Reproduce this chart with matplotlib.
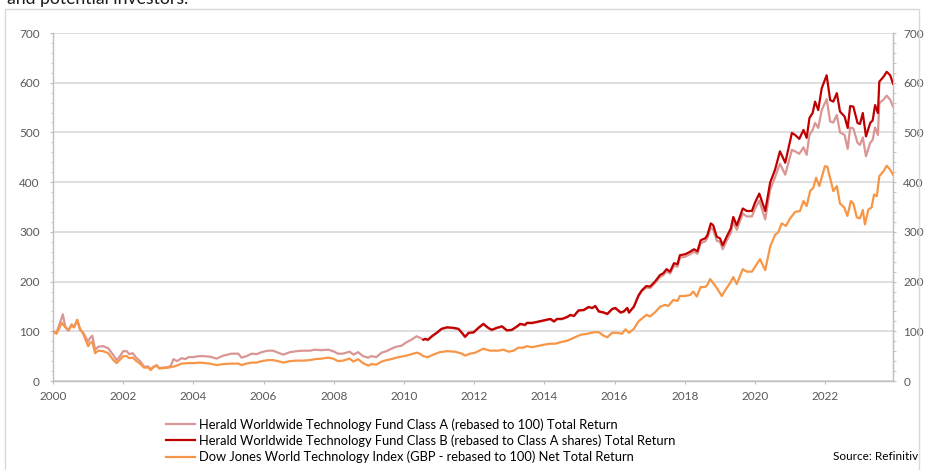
import numpy as np
import matplotlib
matplotlib.use("Agg")
import matplotlib.pyplot as plt
from matplotlib.patches import Rectangle
from matplotlib.ticker import MultipleLocator

plt.rcParams['font.family'] = ['Lato', 'DejaVu Sans']

# Class A fund (rebased to 100), decimal years
years_a = [
    2000.00, 2000.10, 2000.28, 2000.35, 2000.44, 2000.53, 2000.60, 2000.69, 2000.77, 2000.86,
    2001.00, 2001.05, 2001.12, 2001.20, 2001.29, 2001.43, 2001.57, 2001.72, 2001.81, 2001.91,
    2002.00, 2002.10, 2002.17, 2002.27, 2002.38, 2002.48, 2002.59, 2002.72, 2002.78, 2002.85,
    2002.95, 2003.03, 2003.14, 2003.29, 2003.36, 2003.43, 2003.53, 2003.67, 2003.77, 2003.86,
    2004.00, 2004.15, 2004.29, 2004.47, 2004.66, 2004.85, 2005.09, 2005.28, 2005.37, 2005.51,
    2005.66, 2005.80, 2005.94, 2006.13, 2006.27, 2006.41, 2006.56, 2006.75, 2006.94, 2007.13,
    2007.32, 2007.46, 2007.65, 2007.84, 2007.98, 2008.12, 2008.26, 2008.45, 2008.56, 2008.69,
    2008.83, 2008.98, 2009.07, 2009.21, 2009.36, 2009.50, 2009.64, 2009.78, 2009.93, 2010.07,
    2010.21, 2010.36, 2010.45, 2010.55, 2010.60, 2010.68, 2010.79, 2010.93, 2011.07, 2011.22,
    2011.41, 2011.55, 2011.65, 2011.74, 2011.84, 2011.98, 2012.12, 2012.26, 2012.40, 2012.50,
    2012.64, 2012.79, 2012.93, 2013.07, 2013.22, 2013.31, 2013.45, 2013.50, 2013.65, 2013.79,
    2013.98, 2014.17, 2014.27, 2014.36, 2014.50, 2014.65, 2014.74, 2014.84, 2014.97, 2015.12,
    2015.26, 2015.36, 2015.45, 2015.55, 2015.69, 2015.79, 2015.93, 2016.02, 2016.17, 2016.26,
    2016.36, 2016.41, 2016.55, 2016.68, 2016.77, 2016.90, 2017.01, 2017.15, 2017.29, 2017.39,
    2017.48, 2017.58, 2017.69, 2017.79, 2017.86, 2018.01, 2018.15, 2018.26, 2018.36, 2018.45,
    2018.58, 2018.64, 2018.74, 2018.81, 2018.91, 2019.00, 2019.08, 2019.19, 2019.31, 2019.38,
    2019.48, 2019.65, 2019.76, 2019.91, 2020.00, 2020.12, 2020.29, 2020.43, 2020.57, 2020.71,
    2020.86, 2021.05, 2021.14, 2021.26, 2021.38, 2021.47, 2021.55, 2021.64, 2021.71, 2021.80,
    2021.90, 2022.04, 2022.14, 2022.23, 2022.33, 2022.42, 2022.55, 2022.64, 2022.71, 2022.80,
    2022.92, 2022.99, 2023.07, 2023.16, 2023.28, 2023.35, 2023.42, 2023.50, 2023.54, 2023.66,
    2023.75, 2023.85, 2023.93,
]
class_a = [
    100, 97, 134, 109, 101, 114, 108, 123, 103, 97,
    79, 86, 91, 63, 69, 70, 66, 52, 42, 50,
    60, 60, 54, 56, 46, 40, 29, 29, 23, 28,
    32, 26, 27, 28, 31, 44, 40, 46, 44, 48,
    48, 50, 50, 49, 45, 51, 55, 55, 47, 50,
    55, 54, 58, 61, 61, 57, 53, 58, 60, 61,
    61, 63, 62, 63, 60, 55, 55, 59, 53, 58,
    50, 47, 50, 48, 57, 60, 65, 69, 71, 78,
    83, 90, 87, 83, 84, 82, 89, 96, 104, 107,
    106, 104, 96, 88, 96, 97, 106, 114, 106, 102,
    106, 109, 101, 102, 109, 114, 112, 116, 116, 118,
    121, 124, 119, 124, 124, 128, 132, 130, 141, 142,
    148, 146, 150, 139, 137, 134, 144, 146, 137, 139,
    146, 137, 149, 171, 180, 188, 187, 197, 209, 213,
    221, 216, 232, 230, 248, 250, 255, 260, 256, 277,
    281, 287, 308, 304, 282, 280, 265, 282, 298, 321,
    304, 337, 331, 331, 347, 363, 325, 385, 410, 437,
    415, 465, 462, 457, 470, 455, 495, 505, 519, 509,
    545, 567, 522, 520, 535, 500, 495, 467, 510, 508,
    479, 475, 490, 452, 479, 485, 510, 495, 559, 566,
    574, 566, 552,
]

# Class B fund (rebased to Class A shares)
years_b = [
    2010.55, 2010.60, 2010.68, 2010.79, 2010.93, 2011.07, 2011.22, 2011.41, 2011.55, 2011.65,
    2011.74, 2011.84, 2011.98, 2012.12, 2012.26, 2012.40, 2012.50, 2012.64, 2012.79, 2012.93,
    2013.07, 2013.22, 2013.31, 2013.45, 2013.50, 2013.65, 2013.79, 2013.98, 2014.17, 2014.27,
    2014.36, 2014.50, 2014.65, 2014.74, 2014.84, 2014.97, 2015.12, 2015.26, 2015.36, 2015.45,
    2015.55, 2015.69, 2015.79, 2015.93, 2016.02, 2016.17, 2016.26, 2016.36, 2016.41, 2016.55,
    2016.68, 2016.77, 2016.90, 2017.01, 2017.15, 2017.29, 2017.39, 2017.48, 2017.58, 2017.69,
    2017.79, 2017.86, 2018.01, 2018.15, 2018.26, 2018.36, 2018.45, 2018.58, 2018.64, 2018.74,
    2018.81, 2018.91, 2019.00, 2019.08, 2019.19, 2019.31, 2019.38, 2019.48, 2019.65, 2019.76,
    2019.91, 2020.00, 2020.12, 2020.29, 2020.43, 2020.57, 2020.71, 2020.86, 2021.05, 2021.14,
    2021.26, 2021.38, 2021.47, 2021.55, 2021.64, 2021.71, 2021.80, 2021.90, 2022.04, 2022.14,
    2022.23, 2022.33, 2022.42, 2022.55, 2022.64, 2022.71, 2022.80, 2022.92, 2022.99, 2023.07,
    2023.16, 2023.28, 2023.35, 2023.42, 2023.50, 2023.54, 2023.66, 2023.75, 2023.85, 2023.93,
]
class_b = [
    83, 85, 83, 90, 97, 105, 108, 107, 105, 97,
    89, 97, 98, 107, 115, 107, 103, 107, 110, 102,
    103, 110, 115, 113, 117, 117, 119, 122, 125, 120,
    125, 125, 129, 133, 131, 142, 143, 149, 147, 151,
    140, 138, 135, 145, 147, 138, 140, 147, 138, 150,
    172, 182, 191, 190, 200, 213, 217, 225, 220, 237,
    235, 253, 255, 260, 265, 261, 283, 287, 293, 317,
    313, 290, 287, 273, 290, 307, 330, 313, 347, 342,
    342, 359, 377, 342, 399, 425, 462, 439, 499, 495,
    487, 505, 489, 529, 539, 562, 545, 589, 615, 565,
    562, 579, 542, 532, 509, 553, 552, 519, 517, 539,
    492, 519, 524, 555, 539, 602, 612, 622, 615, 598,
]

# Dow Jones World Technology Index (GBP, rebased to 100)
years_idx = [
    2000.00, 2000.10, 2000.25, 2000.35, 2000.44, 2000.53, 2000.60, 2000.69, 2000.77, 2000.86,
    2001.00, 2001.05, 2001.12, 2001.20, 2001.29, 2001.43, 2001.57, 2001.72, 2001.81, 2001.91,
    2002.00, 2002.10, 2002.17, 2002.27, 2002.38, 2002.48, 2002.59, 2002.72, 2002.78, 2002.85,
    2002.95, 2003.03, 2003.14, 2003.29, 2003.43, 2003.53, 2003.67, 2003.86, 2004.00, 2004.19,
    2004.47, 2004.66, 2004.85, 2005.09, 2005.28, 2005.37, 2005.51, 2005.66, 2005.80, 2005.94,
    2006.13, 2006.27, 2006.41, 2006.56, 2006.75, 2006.94, 2007.13, 2007.32, 2007.46, 2007.65,
    2007.84, 2007.98, 2008.12, 2008.26, 2008.45, 2008.56, 2008.69, 2008.83, 2008.98, 2009.07,
    2009.21, 2009.36, 2009.50, 2009.64, 2009.78, 2009.93, 2010.07, 2010.21, 2010.36, 2010.45,
    2010.55, 2010.68, 2010.83, 2011.02, 2011.22, 2011.45, 2011.65, 2011.74, 2011.88, 2012.03,
    2012.26, 2012.45, 2012.69, 2012.83, 2012.98, 2013.12, 2013.26, 2013.40, 2013.50, 2013.65,
    2013.79, 2013.98, 2014.17, 2014.31, 2014.45, 2014.65, 2014.84, 2015.03, 2015.22, 2015.41,
    2015.55, 2015.69, 2015.79, 2015.93, 2016.07, 2016.21, 2016.31, 2016.41, 2016.55, 2016.68,
    2016.77, 2016.91, 2017.01, 2017.15, 2017.29, 2017.43, 2017.53, 2017.67, 2017.79, 2017.86,
    2018.01, 2018.15, 2018.24, 2018.34, 2018.45, 2018.58, 2018.64, 2018.72, 2018.81, 2018.93,
    2019.05, 2019.19, 2019.29, 2019.38, 2019.48, 2019.65, 2019.76, 2019.91, 2020.03, 2020.14,
    2020.29, 2020.43, 2020.57, 2020.66, 2020.76, 2020.88, 2021.00, 2021.14, 2021.28, 2021.38,
    2021.47, 2021.57, 2021.66, 2021.74, 2021.83, 2021.99, 2022.06, 2022.16, 2022.23, 2022.33,
    2022.42, 2022.54, 2022.63, 2022.73, 2022.80, 2022.90, 2022.99, 2023.07, 2023.13, 2023.23,
    2023.32, 2023.39, 2023.47, 2023.54, 2023.66, 2023.75, 2023.85, 2023.93,
]
index_dj = [
    100, 95, 117, 108, 103, 112, 108, 123, 105, 95,
    70, 76, 79, 56, 61, 60, 56, 42, 36, 43,
    50, 50, 46, 47, 40, 35, 27, 27, 22, 27,
    31, 25, 26, 27, 29, 31, 35, 36, 36, 37,
    35, 32, 34, 35, 35, 32, 35, 37, 37, 40,
    42, 42, 40, 37, 40, 41, 41, 42, 44, 45,
    47, 45, 40, 41, 45, 39, 44, 36, 31, 34,
    33, 39, 42, 44, 47, 49, 51, 54, 57, 55,
    50, 48, 53, 58, 60, 59, 55, 51, 55, 57,
    65, 61, 61, 63, 59, 61, 67, 67, 70, 68,
    70, 73, 75, 75, 78, 81, 87, 93, 95, 98,
    98, 91, 88, 97, 97, 95, 104, 97, 105, 120,
    125, 133, 130, 138, 149, 153, 151, 163, 161, 171,
    171, 173, 180, 170, 189, 189, 193, 205, 197, 185,
    171, 187, 197, 209, 195, 225, 220, 220, 233, 245,
    223, 270, 294, 299, 317, 312, 327, 340, 342, 362,
    352, 382, 389, 409, 392, 432, 431, 402, 382, 392,
    357, 349, 332, 362, 357, 329, 327, 344, 315, 345,
    349, 375, 372, 412, 422, 433, 425, 415,
]

labels = [
    'Herald Worldwide Technology Fund Class A (rebased to 100) Total Return',
    'Herald Worldwide Technology Fund Class B (rebased to Class A shares) Total Return',
    'Dow Jones World Technology Index (GBP - rebased to 100) Net Total Return',
]
colors = ['#DA9694', '#C00000', '#F79646']
x_ticks = list(range(2000, 2023, 2))
y_ticks = list(range(0, 701, 100))

W, H = 925, 470
fig = plt.figure(figsize=(W / 100, H / 100), dpi=100)
ax = fig.add_axes([53 / W, 1 - 381 / H, (893 - 53) / W, (381 - 33) / H])

l1, = ax.plot(years_a, class_a, color=colors[0], lw=1.6, zorder=3)
l2, = ax.plot(years_b, class_b, color=colors[1], lw=1.6, zorder=4)
l3, = ax.plot(years_idx, index_dj, color=colors[2], lw=1.6, zorder=3)

ax.set_xlim(2000, 2023.93)
ax.set_ylim(0, 700)
ax.set_xticks(x_ticks)
ax.set_yticks(y_ticks)
ax.yaxis.set_minor_locator(MultipleLocator(20))
ax.grid(axis='y', color='#D9D9D9', lw=1.2, zorder=0)

grey = '#BFBFBF'
label_col = '#595959'
ax.spines['top'].set_visible(False)
for side in ['left', 'right', 'bottom']:
    ax.spines[side].set_color(grey)
    ax.spines[side].set_linewidth(1.0)

ax.tick_params(axis='x', direction='out', length=2.5, color=grey, labelsize=8.5,
               labelcolor=label_col, pad=5)
ax.tick_params(axis='y', which='major', direction='out', length=2.5, color=grey,
               labelsize=8.5, labelcolor=label_col, pad=7)
ax.tick_params(axis='y', which='minor', direction='out', length=1.8, color=grey)

ax2 = ax.twinx()
ax2.set_ylim(0, 700)
ax2.set_yticks(y_ticks)
ax2.yaxis.set_minor_locator(MultipleLocator(20))
for side in ['top', 'left', 'bottom']:
    ax2.spines[side].set_visible(False)
ax2.spines['right'].set_color(grey)
ax2.tick_params(axis='y', which='major', direction='out', length=2.5, color=grey,
                labelsize=8.5, labelcolor=label_col, pad=5)
ax2.tick_params(axis='y', which='minor', direction='out', length=1.8, color=grey)

fig.legend([l1, l2, l3], labels, loc='upper left',
           bbox_to_anchor=(166 / W, 1 - 418 / H), frameon=False,
           fontsize=9.3, handlelength=2.25, handletextpad=0.3,
           labelspacing=0.3, borderpad=0, borderaxespad=0)
fig.text(918 / W, 1 - 457 / H, 'Source: Refinitiv', ha='right', va='center',
         fontsize=8.5, color='black')

# chart frame and the cut-off caption above it
fig.patches.append(Rectangle((5 / W, -0.02), (919 - 5) / W, 0.02 + 1 - 9 / H,
                             transform=fig.transFigure, fill=False,
                             edgecolor='#D9D9D9', lw=1.0))
fig.text(7 / W, 1 - 4 / H, 'and potential investors.', ha='left', va='baseline',
         fontsize=12.7, color='#1A1A1A')

fig.savefig('out.png', dpi=100)
